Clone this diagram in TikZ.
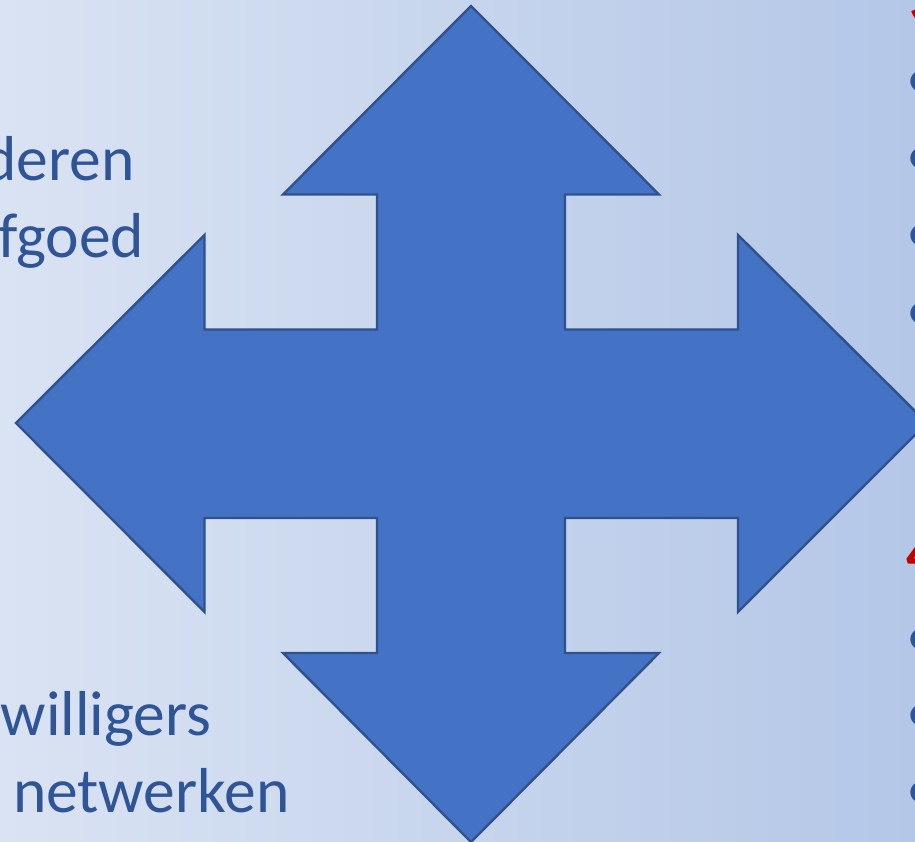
\documentclass[tikz,border=0pt]{standalone}
\usepackage{fontspec}
\setmainfont{Carlito}
\definecolor{txtblue}{HTML}{2F5597}
\definecolor{fillblue}{HTML}{4472C4}
\definecolor{edgeblue}{HTML}{2F528F}
\definecolor{redtxt}{HTML}{C00000}
\definecolor{bgleft}{RGB}{218,227,243}
\definecolor{bgright}{RGB}{180,199,231}
\tikzset{
  lbl/.style={anchor=base east,inner sep=0pt,text=txtblue,font=\fontsize{63.5}{72}\selectfont},
  lblw/.style={anchor=base west,inner sep=0pt,text=txtblue,font=\fontsize{60}{72}\selectfont},
  head/.style={anchor=base west,inner sep=0pt,text=redtxt,font=\bfseries\fontsize{60}{72}\selectfont},
  arrowshape/.style={fill=fillblue,draw=edgeblue,line width=2.4pt,line join=miter}
}
\begin{document}
\begin{tikzpicture}[x=1pt,y=-1pt]
\useasboundingbox (0,0) rectangle (915,842);
\clip (0,0) rectangle (915,842);
\shade[left color=bgleft,right color=bgright] (0,0) rectangle (915,842);
\node[lbl] (t1) at (134.5,180.5) {deren};
\node[lbl] (t2) at (144.5,257.5) {fgoed};
\node[lbl] (t3) at (211.5,735.5) {willigers};
\node[lbl] (t4) at (289.5,812.5) {netwerken};
\node[head] (h1) at (909,22) {3};
\node[head] (h2) at (906,573) {4};
\foreach \y/\n in {99/a,176/b,253/c,330/d,656/e,732/f,809/g}
  \node[lblw] (b\n) at (906,\y) {•};
\draw[arrowshape] (471,6) -- (659,194.5) -- (565,194.5) -- (565,329.5) -- (738,329.5) -- (738,235) -- (927,423) -- (738,612) -- (738,518) -- (565,518) -- (565,653) -- (659,653) -- (471,842) -- (283,653) -- (377,653) -- (377,518) -- (204.5,518) -- (204.5,612) -- (16,423) -- (204.5,235) -- (204.5,329.5) -- (377,329.5) -- (377,194.5) -- (283,194.5) -- cycle;
\end{tikzpicture}
\end{document}
